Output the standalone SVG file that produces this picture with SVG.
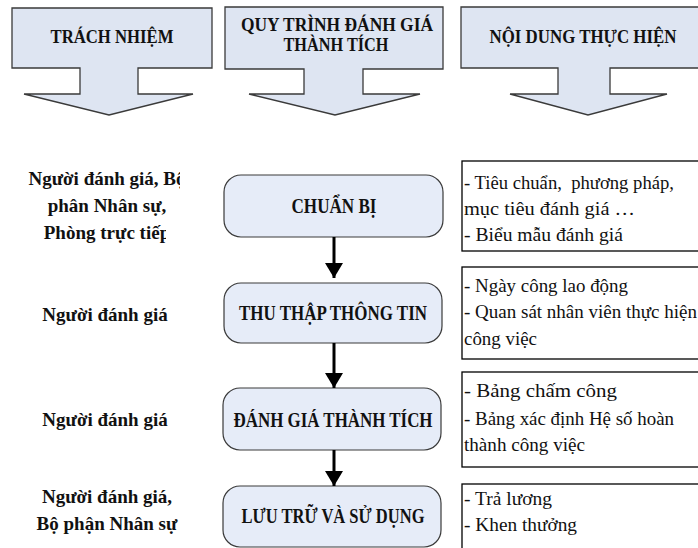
<svg xmlns="http://www.w3.org/2000/svg" width="698" height="548" viewBox="0 0 698 548">
<style>
.hdr{fill:#dee5f2;stroke:#3a3a3a;stroke-width:1.3}
.proc{fill:#e6ecf8;stroke:#3a3a3a;stroke-width:1.2}
.note{fill:#ffffff;stroke:#000;stroke-width:1.3}
.ht,.pt,.lt,.nt{font-family:"Liberation Serif","Times New Roman",serif;fill:#111}
.ht{font-weight:bold;font-size:19px;text-anchor:middle}
.pt{font-weight:bold;font-size:20px;text-anchor:middle}
.lt{font-weight:bold;font-size:19px;text-anchor:middle}
.nt{font-size:19.5px;white-space:pre}
.conn{stroke:#000;stroke-width:3;fill:none}
</style>
<defs>
<marker id="ah" markerUnits="userSpaceOnUse" markerWidth="16" markerHeight="18" refX="15" refY="9" orient="auto">
<path d="M0,0 L15,9 L0,18 Z" fill="#000"/>
</marker>
<clipPath id="clipL1"><rect x="0" y="150" width="180" height="45"/></clipPath>
<clipPath id="clipL3"><rect x="0" y="220" width="166" height="30"/></clipPath>
</defs>

<g id="header-trach-nhiem">
<path class="hdr" d="M12,8 H212 V68 H138 V94 H193 L109,115 L24,94 H80 V68 H12 Z"/>
<text class="ht" x="112" y="43" textLength="123" lengthAdjust="spacingAndGlyphs">TRÁCH NHIỆM</text>
</g>
<g id="header-quy-trinh">
<path class="hdr" d="M225,7 H443 V69 H363 V94 H420 L335,115 L249,94 H304 V69 H225 Z"/>
<text class="ht" x="337" y="31" textLength="192" lengthAdjust="spacingAndGlyphs">QUY TRÌNH ĐÁNH GIÁ</text>
<text class="ht" x="336" y="51" textLength="105" lengthAdjust="spacingAndGlyphs">THÀNH TÍCH</text>
</g>
<g id="header-noi-dung">
<path class="hdr" d="M461,7 H702 V68 H610 V94 H667 L588,115 L510,94 H558 V68 H461 Z"/>
<text class="ht" x="583" y="43" textLength="187" lengthAdjust="spacingAndGlyphs">NỘI DUNG THỰC HIỆN</text>
</g>

<g id="resp-1">
<text class="lt" x="107" y="185" clip-path="url(#clipL1)">Người đánh giá, Bộ</text>
<text class="lt" x="107" y="212">phân Nhân sự,</text>
<text class="lt" x="107" y="239" clip-path="url(#clipL3)">Phòng trực tiếp</text>
</g>
<g id="resp-2">
<text class="lt" x="105" y="321">Người đánh giá</text>
</g>
<g id="resp-3">
<text class="lt" x="105" y="426">Người đánh giá</text>
</g>
<g id="resp-4">
<text class="lt" x="107" y="503">Người đánh giá,</text>
<text class="lt" x="107" y="530">Bộ phận Nhân sự</text>
</g>

<g id="step-chuan-bi">
<rect class="proc" x="224" y="175" width="219" height="62" rx="17"/>
<text class="pt" x="334" y="213" textLength="85" lengthAdjust="spacingAndGlyphs">CHUẨN BỊ</text>
</g>
<g id="step-thu-thap">
<rect class="proc" x="224" y="283" width="218" height="60" rx="17"/>
<text class="pt" x="333" y="320" textLength="188" lengthAdjust="spacingAndGlyphs">THU THẬP THÔNG TIN</text>
</g>
<g id="step-danh-gia">
<rect class="proc" x="223" y="388" width="218" height="62" rx="17"/>
<text class="pt" x="333" y="427" textLength="199" lengthAdjust="spacingAndGlyphs">ĐÁNH GIÁ THÀNH TÍCH</text>
</g>
<g id="step-luu-tru">
<rect class="proc" x="223" y="486" width="218" height="61" rx="17"/>
<text class="pt" x="333" y="523" textLength="183" lengthAdjust="spacingAndGlyphs">LƯU TRỮ VÀ SỬ DỤNG</text>
</g>

<g id="content-1">
<rect class="note" x="462" y="161" width="240" height="90"/>
<text class="nt" x="464" y="189" textLength="210" lengthAdjust="spacingAndGlyphs">- Tiêu chuẩn,  phương pháp,</text>
<text class="nt" x="464" y="215" textLength="171" lengthAdjust="spacingAndGlyphs">mục tiêu đánh giá …</text>
<text class="nt" x="464" y="241" textLength="159" lengthAdjust="spacingAndGlyphs">- Biểu mẫu đánh giá</text>
</g>
<g id="content-2">
<rect class="note" x="462" y="267" width="240" height="92"/>
<text class="nt" x="464" y="292" textLength="164" lengthAdjust="spacingAndGlyphs">- Ngày công lao động</text>
<text class="nt" x="464" y="318" textLength="233" lengthAdjust="spacingAndGlyphs">- Quan sát nhân viên thực hiện</text>
<text class="nt" x="464" y="345" textLength="73" lengthAdjust="spacingAndGlyphs">công việc</text>
</g>
<g id="content-3">
<rect class="note" x="462" y="372" width="240" height="95"/>
<text class="nt" x="464" y="397" textLength="153" lengthAdjust="spacingAndGlyphs">- Bảng chấm công</text>
<text class="nt" x="464" y="425" textLength="210" lengthAdjust="spacingAndGlyphs">- Bảng xác định Hệ số hoàn</text>
<text class="nt" x="464" y="451" textLength="121" lengthAdjust="spacingAndGlyphs">thành công việc</text>
</g>
<g id="content-4">
<rect class="note" x="462" y="484" width="240" height="70"/>
<text class="nt" x="464" y="505" textLength="88" lengthAdjust="spacingAndGlyphs">- Trả lương</text>
<text class="nt" x="464" y="531" textLength="113" lengthAdjust="spacingAndGlyphs">- Khen thưởng</text>
</g>

<g id="connectors">
<line class="conn" x1="334" y1="237" x2="334" y2="278" marker-end="url(#ah)"/>
<line class="conn" x1="334" y1="343" x2="334" y2="388" marker-end="url(#ah)"/>
<line class="conn" x1="334" y1="450" x2="334" y2="486" marker-end="url(#ah)"/>
</g>
</svg>
